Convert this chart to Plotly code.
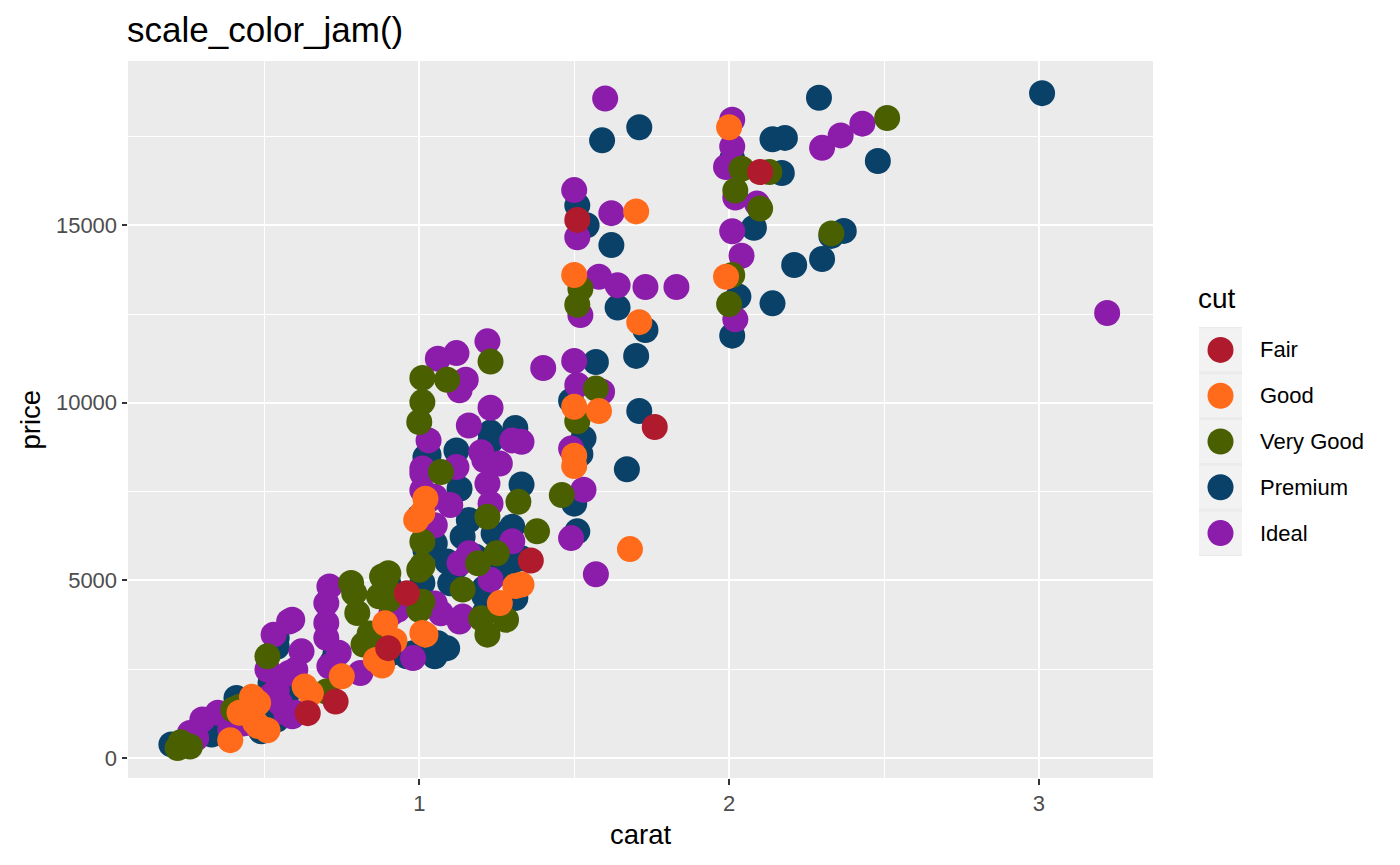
import plotly.graph_objects as go

# ---------------- data ----------------
cuts = ["Fair", "Good", "Very Good", "Premium", "Ideal"]
cut_colors = ["#AF1A2D", "#FF6B1A", "#4A6000", "#0A4169", "#8C1CAA"]

fair_carat = [2.10, 1.51, 1.76, 1.36, 0.90, 0.73, 0.64, 0.96]
fair_price = [16500, 15150, 9320, 5560, 3090, 1590, 1260, 4640]

good_carat = [2.00, 1.99, 1.70, 1.50, 1.71, 1.50, 1.58, 1.50, 1.50, 1.68, 1.33, 0.99, 1.31, 1.02,
              0.46, 0.42, 0.48, 0.75, 0.89, 1.01, 0.65, 0.51, 0.86, 1.26, 1.02, 1.01, 0.39, 0.47,
              0.63, 0.48, 0.92, 0.88]
good_price = [17760, 13550, 15390, 13600, 12270, 9890, 9770, 8510, 8220, 5880, 4880, 6700, 4840, 3470,
              1720, 1270, 1550, 2300, 3790, 3520, 1820, 780, 2760, 4360, 7300, 6900, 500, 1000,
              2010, 900, 3300, 2600]

vgood_carat = [2.51, 2.04, 2.13, 2.02, 2.10, 2.33, 2.01, 2.00, 1.52, 1.51, 1.57, 1.51, 1.46, 1.32, 1.38,
               1.23, 1.01, 1.09, 1.01, 1.00, 1.07, 1.22, 1.01, 1.25, 1.01, 0.90, 0.89, 1.20, 1.28, 1.22,
               1.01, 1.00, 0.23, 0.26, 0.40, 0.51, 0.78, 0.80, 0.82, 0.70, 0.89, 1.00, 0.87, 0.79, 0.88,
               0.90, 1.01, 1.14, 0.42, 0.22, 1.19, 0.84, 0.86]
vgood_price = [18020, 16590, 16500, 15980, 15470, 14770, 13600, 12780, 13210, 12760, 10400, 9480, 7400, 7210, 6380,
               11160, 10700, 10650, 10020, 9460, 8050, 6790, 6090, 5760, 5430, 5200, 4540, 3930, 3890, 3470,
               4400, 4170, 440, 320, 1360, 2860, 4925, 4080, 3190, 1870, 4970, 5300, 4550, 4640, 5110,
               4455, 5395, 4740, 1440, 280, 5480, 3500, 2950]

premium_carat = [3.01, 2.29, 2.14, 2.18, 2.48, 2.01, 2.17, 2.08, 2.33, 2.37, 2.30, 2.21, 2.03, 2.14, 2.01,
                 1.71, 1.59, 1.51, 1.54, 1.62, 1.64, 1.73, 1.70, 1.57, 1.49, 1.71, 1.53, 1.52, 1.67, 1.50,
                 1.51, 1.31, 1.33, 1.33, 1.23, 1.23, 1.12, 1.02, 1.13, 1.00, 1.16, 1.24, 1.30, 1.26, 1.02,
                 1.10, 1.31, 1.21, 0.90, 1.21, 0.98, 1.09, 0.98, 0.91, 0.20, 0.32, 0.33, 0.41, 0.54, 0.52,
                 0.57, 0.54, 0.72, 0.96, 1.05, 1.06, 1.01, 1.27, 1.21, 1.12, 0.30, 1.02, 0.49,
                 1.03, 1.05, 1.14, 1.29, 1.18, 1.09, 0.54, 0.73]
premium_price = [18720, 18590, 17420, 17460, 16810, 16870, 16470, 14930, 14700, 14840, 14050, 13880, 12990, 12800, 11890,
                 17760, 17390, 15560, 15000, 14440, 12680, 12050, 11320, 11150, 10060, 9770, 9000, 8560, 8130, 7160,
                 6380, 9290, 7700, 5620, 9160, 8920, 8660, 8470, 7580, 6790, 6700, 6320, 6510, 5380, 5850,
                 4920, 4500, 4780, 4920, 4070, 4500, 3090, 2950, 2950, 380, 985, 660, 1690, 3380, 2110,
                 1735, 1080, 2700, 2860, 2860, 3230, 4925, 5210, 4550, 5395, 784, 8100, 750,
                 8530, 6040, 6230, 5430, 5670, 5530, 3130, 2950]

ideal_carat = [3.22, 2.01, 2.43, 2.36, 2.30, 2.01, 1.99, 2.02, 2.09, 2.01, 2.04, 2.02,
               1.60, 1.50, 1.51, 1.62, 1.58, 1.64, 1.73, 1.83, 1.52, 1.40, 1.50, 1.51, 1.59, 1.49, 1.53, 1.49,
               1.57, 1.33, 1.22, 1.12, 1.06, 1.15, 1.13, 1.23, 1.16, 1.30, 1.03, 1.20, 1.26, 1.12, 1.01, 1.01,
               1.22, 1.10, 1.03, 1.23, 1.05, 1.16, 0.91, 1.13, 1.07, 0.30, 0.35, 0.39, 0.42, 0.53, 0.59, 0.51,
               0.62, 0.54, 0.52, 0.57, 0.60, 0.71, 0.70, 0.70, 0.70, 0.74, 0.71, 0.81, 0.58, 0.58, 0.59, 0.98,
               1.23, 0.43, 0.26, 0.28, 1.01, 1.05, 1.21, 1.13, 1.05, 0.93, 1.14, 0.60, 0.55, 0.45, 1.30]
ideal_price = [12530, 17970, 17860, 17530, 17180, 17220, 16640, 15780, 15610, 14830, 14140, 12350,
               18570, 15990, 14660, 15340, 13550, 13310, 13260, 13260, 12470, 10980, 11180, 10500, 10310, 8710, 7550, 6190,
               5170, 8900, 11730, 11400, 11240, 10650, 10350, 9860, 9360, 8940, 8940, 8610, 8290, 8190, 8150, 7540,
               7730, 7120, 7260, 7160, 6550, 5760, 4070, 3840, 4070, 1080, 1270, 800, 1080, 3470, 3890, 2490,
               3000, 1920, 1740, 1270, 1270, 4830, 4360, 3800, 3380, 2960, 2580, 2390, 3840, 2390, 1170, 2810,
               5020, 970, 700, 560, 8010, 7355, 8390, 5480, 4350, 4170, 3980, 2480, 1550, 990, 6100]

x_ticks = [1, 2, 3]
x_minor = [0.5, 1.5, 2.5]
y_ticks = [0, 5000, 10000, 15000]
y_minor = [2500, 7500, 12500, 17500]

# ---------------- figure ----------------
W, H = 1400, 865
L, R, T, B = 128, 20, 61, 87
pw = W - L - R
ph = H - T - B

def px_x(p):
    return (p - L) / pw

def px_y(p):
    return (H - B - p) / ph

series = {
    "Fair": (fair_carat, fair_price),
    "Good": (good_carat, good_price),
    "Very Good": (vgood_carat, vgood_price),
    "Premium": (premium_carat, premium_price),
    "Ideal": (ideal_carat, ideal_price),
}
draw_order = ["Premium", "Ideal", "Very Good", "Good", "Fair"]

fig = go.Figure()
for name in draw_order:
    xs, ys = series[name]
    fig.add_trace(go.Scatter(
        x=xs, y=ys, mode="markers", name=name, showlegend=False, hoverinfo="skip",
        marker=dict(size=26, color=cut_colors[cuts.index(name)], line=dict(width=0)),
    ))

# hand-made legend (ggplot style keys) on its own little axes
fig.add_trace(go.Scatter(
    x=[0.5] * len(cuts), y=list(range(len(cuts))), mode="markers",
    xaxis="x2", yaxis="y2", showlegend=False, hoverinfo="skip",
    marker=dict(size=26, color=cut_colors, line=dict(width=0)),
))
for i, c in enumerate(cuts):
    fig.add_shape(type="rect", xref="x2", yref="y2", x0=0, x1=1, y0=i - 0.47, y1=i + 0.47,
                  fillcolor="#F2F2F2", line=dict(width=0), layer="below")
    fig.add_annotation(text=c, xref="paper", yref="y2", x=px_x(1258), y=i, xanchor="left",
                       yanchor="middle", showarrow=False,
                       font=dict(size=22, color="black", family="Liberation Sans, Arial"))

fig.add_annotation(text="cut", xref="paper", yref="paper", x=px_x(1196), y=px_y(298),
                   xanchor="left", yanchor="middle", showarrow=False,
                   font=dict(size=28, color="black", family="Liberation Sans, Arial"))

# title and axis titles
fig.add_annotation(text="scale_color_jam()", xref="paper", yref="paper", x=px_x(125), y=px_y(30),
                   xanchor="left", yanchor="middle", showarrow=False,
                   font=dict(size=35, color="black", family="Liberation Sans, Arial"))
fig.add_annotation(text="carat", xref="paper", yref="paper", x=px_x(640.5), y=px_y(834),
                   xanchor="center", yanchor="middle", showarrow=False,
                   font=dict(size=27.5, color="black", family="Liberation Sans, Arial"))
fig.add_annotation(text="price", xref="paper", yref="paper", x=px_x(30), y=px_y(419.5),
                   xanchor="center", yanchor="middle", showarrow=False, textangle=-90,
                   font=dict(size=27.5, color="black", family="Liberation Sans, Arial"))

axis_common = dict(
    showline=False, zeroline=False, showgrid=True, gridcolor="white", gridwidth=2.2,
    ticks="outside", ticklen=5.5, tickwidth=2, tickcolor="#333333",
    tickfont=dict(size=22, color="#4D4D4D", family="Liberation Sans, Arial"),
)

fig.update_layout(
    width=W, height=H,
    margin=dict(l=L, r=R, t=T, b=B),
    paper_bgcolor="white",
    plot_bgcolor="#EBEBEB",
    showlegend=False,
    xaxis=dict(domain=[0, px_x(1153)], range=[0.06, 3.368], tickvals=x_ticks,
               ticktext=[str(v) for v in x_ticks],
               minor=dict(tickvals=x_minor, showgrid=True, gridcolor="white", gridwidth=1.1, ticks=""),
               **axis_common),
    yaxis=dict(domain=[0, 1], range=[-566, 19625], tickvals=y_ticks,
               ticktext=[str(v) for v in y_ticks],
               minor=dict(tickvals=y_minor, showgrid=True, gridcolor="white", gridwidth=1.1, ticks=""),
               **axis_common),
    xaxis2=dict(domain=[px_x(1199), px_x(1242)], range=[0, 1], visible=False, anchor="y2",
                fixedrange=True),
    yaxis2=dict(domain=[px_y(556), px_y(327)], range=[4.5, -0.5], visible=False, anchor="x2",
                fixedrange=True),
)

# drop the browser's default 8px body margin so the figure sits at the page origin
fig.write_html("out.html", config={"displayModeBar": False},
               post_script="document.body.style.margin='0px';")
